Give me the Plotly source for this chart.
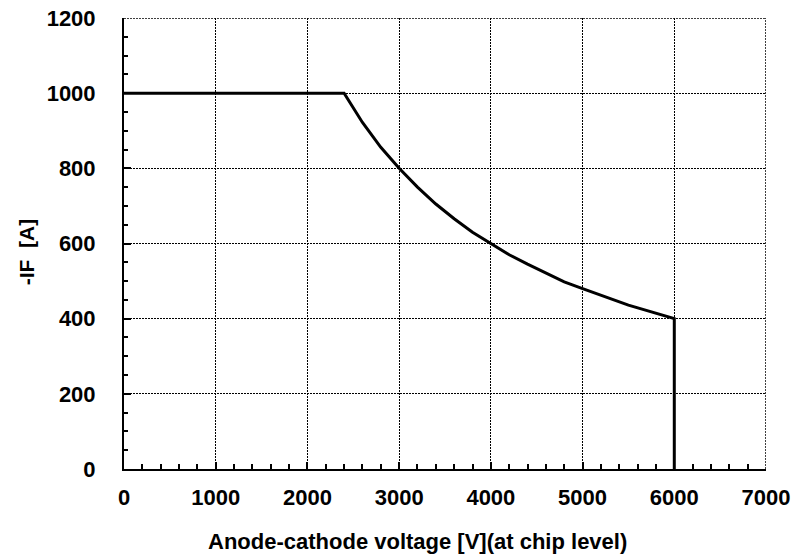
import plotly.graph_objects as go

# Anode-cathode voltage [V]
voltage = [0, 2400, 2600, 2800, 3000, 3200, 3400, 3600, 3800, 4000, 4200, 4400,
           4600, 4800, 5000, 5500, 6000, 6000]
# -IF [A]
current = [1000, 1000, 922, 856, 800, 750, 705, 666, 630, 600, 570, 545,
           522, 498, 480, 436, 400, 0]

x_ticks = [0, 1000, 2000, 3000, 4000, 5000, 6000, 7000]
y_ticks = [0, 200, 400, 600, 800, 1000, 1200]
x_range = [0, 7000]
y_range = [0, 1200]

FONT = "Liberation Sans, Arial, sans-serif"
GRID_DASH = "2px,1px"

fig = go.Figure()
fig.add_trace(go.Scatter(x=voltage, y=current, mode="lines",
                         line=dict(color="black", width=3), showlegend=False,
                         cliponaxis=False, hoverinfo="skip"))

# dotted top and right border (grid at range ends)
fig.add_shape(type="line", xref="x", yref="y", x0=x_range[0], x1=x_range[1],
              y0=y_range[1], y1=y_range[1], line=dict(color="black", width=1.5, dash=GRID_DASH))
fig.add_shape(type="line", xref="x", yref="y", x0=x_range[1], x1=x_range[1],
              y0=y_range[0], y1=y_range[1], line=dict(color="black", width=1.5, dash=GRID_DASH))

fig.update_layout(
    width=791, height=557,
    margin=dict(l=124, r=25, t=17.5, b=88),
    plot_bgcolor="white", paper_bgcolor="white",
    font=dict(family=FONT, color="black"),
    hovermode=False,
    annotations=[
        dict(text="<b>Anode-cathode voltage [V](at chip level)</b>", xref="paper", yref="paper",
             x=0.4564, y=-0.1617, xanchor="center", yanchor="middle", showarrow=False,
             font=dict(family=FONT, size=22, color="black")),
        dict(text="<b>-IF  [A]</b>", xref="paper", yref="paper",
             x=-0.1519, y=0.4817, xanchor="center", yanchor="middle", showarrow=False,
             textangle=-90, font=dict(family=FONT, size=21, color="black")),
    ],
)
fig.update_xaxes(
    range=x_range, tickvals=x_ticks, ticktext=[str(v) for v in x_ticks],
    showline=True, linecolor="black", linewidth=2, automargin=False,
    showgrid=True, gridcolor="black", griddash=GRID_DASH, gridwidth=1,
    ticks="inside", ticklen=7, tickwidth=1.5, tickcolor="black",
    minor=dict(dtick=200, ticks="inside", ticklen=5, tickwidth=1.5, tickcolor="black", showgrid=False),
    tickfont=dict(family=FONT, size=22, color="black", weight="bold"),
    ticklabelstandoff=8, ticklabeloverflow="allow",
    zeroline=False,
)
fig.update_yaxes(
    range=y_range, tickvals=y_ticks, ticktext=[str(v) for v in y_ticks],
    showline=True, linecolor="black", linewidth=2, automargin=False,
    showgrid=True, gridcolor="black", griddash=GRID_DASH, gridwidth=1,
    ticks="inside", ticklen=7, tickwidth=1.5, tickcolor="black",
    minor=dict(dtick=50, ticks="inside", ticklen=4, tickwidth=1.5, tickcolor="black", showgrid=False),
    tickfont=dict(family=FONT, size=22, color="black", weight="bold"),
    ticklabelstandoff=22, ticklabeloverflow="allow",
    zeroline=False,
)

fig.write_html(
    "out.html",
    config={"displayModeBar": False},
    post_script="document.body.style.margin='0px';document.body.style.overflow='hidden';",
)
